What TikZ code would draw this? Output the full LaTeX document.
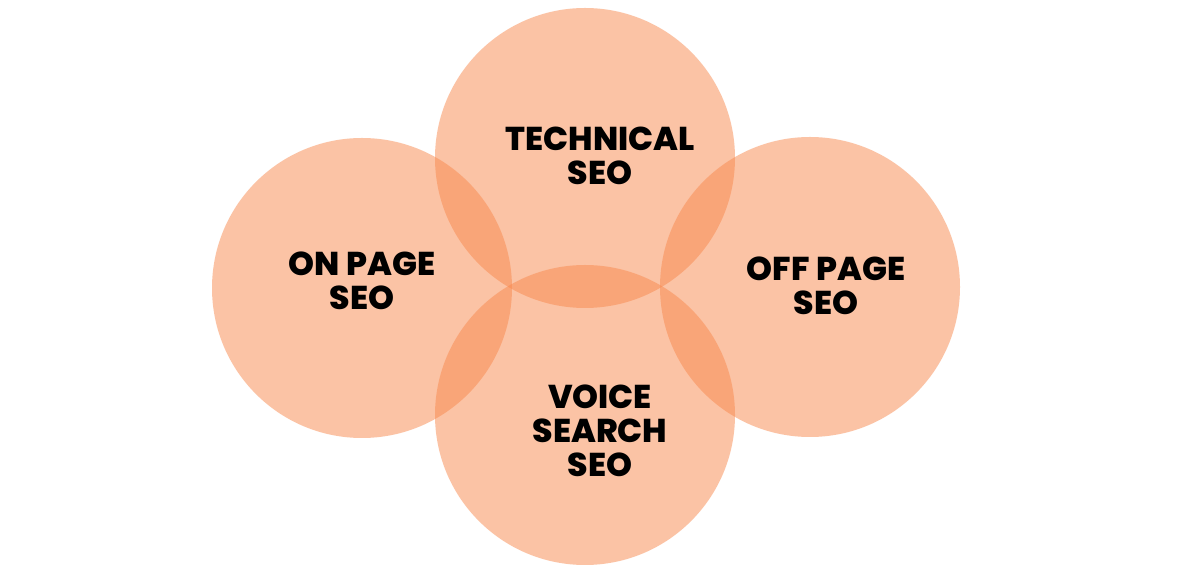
\documentclass[tikz,border=0pt]{standalone}
\usepackage{fontspec}
\setsansfont{Poppins}[BoldFont={Poppins ExtraBold}]
\usepackage{tikz}
\usepackage{xcolor}
\usetikzlibrary{
    calc,
    positioning
}
\definecolor{seopeach}{HTML}{F9894D}
\tikzset{
    seocirc/.style={circle, draw=none, fill=seopeach, fill opacity=0.5, minimum size=150pt, inner sep=0pt},
    seolabel/.style={align=center, font=\sffamily\bfseries\fontsize{16.5}{17}\selectfont, text=black, inner sep=0pt}
}
\newcommand{\seoarea}[4]{
    \node[seocirc] (#1) at (#2) {};
    \node[seolabel] (#1text) at ($(#2) + #4$) {#3};
}
\begin{document}
\begin{tikzpicture}[x=0.5pt, y=-0.5pt]
                                        \useasboundingbox (0, 0) rectangle (1200, 576);
                                        \fill[white] (0, 0) rectangle (1200, 576);
                                        \seoarea{tech}{585, 158}{TECHNICAL\\SEO}{(15, -2)}
                                        \seoarea{onpage}{362, 288}{ON PAGE\\SEO}{(0, -7)}
                                        \seoarea{offpage}{810, 287}{OFF PAGE\\SEO}{(16, -1)}
                                        \seoarea{voice}{585, 415}{VOICE\\SEARCH\\SEO}{(15, 16)}
                                    \end{tikzpicture}
\end{document}
